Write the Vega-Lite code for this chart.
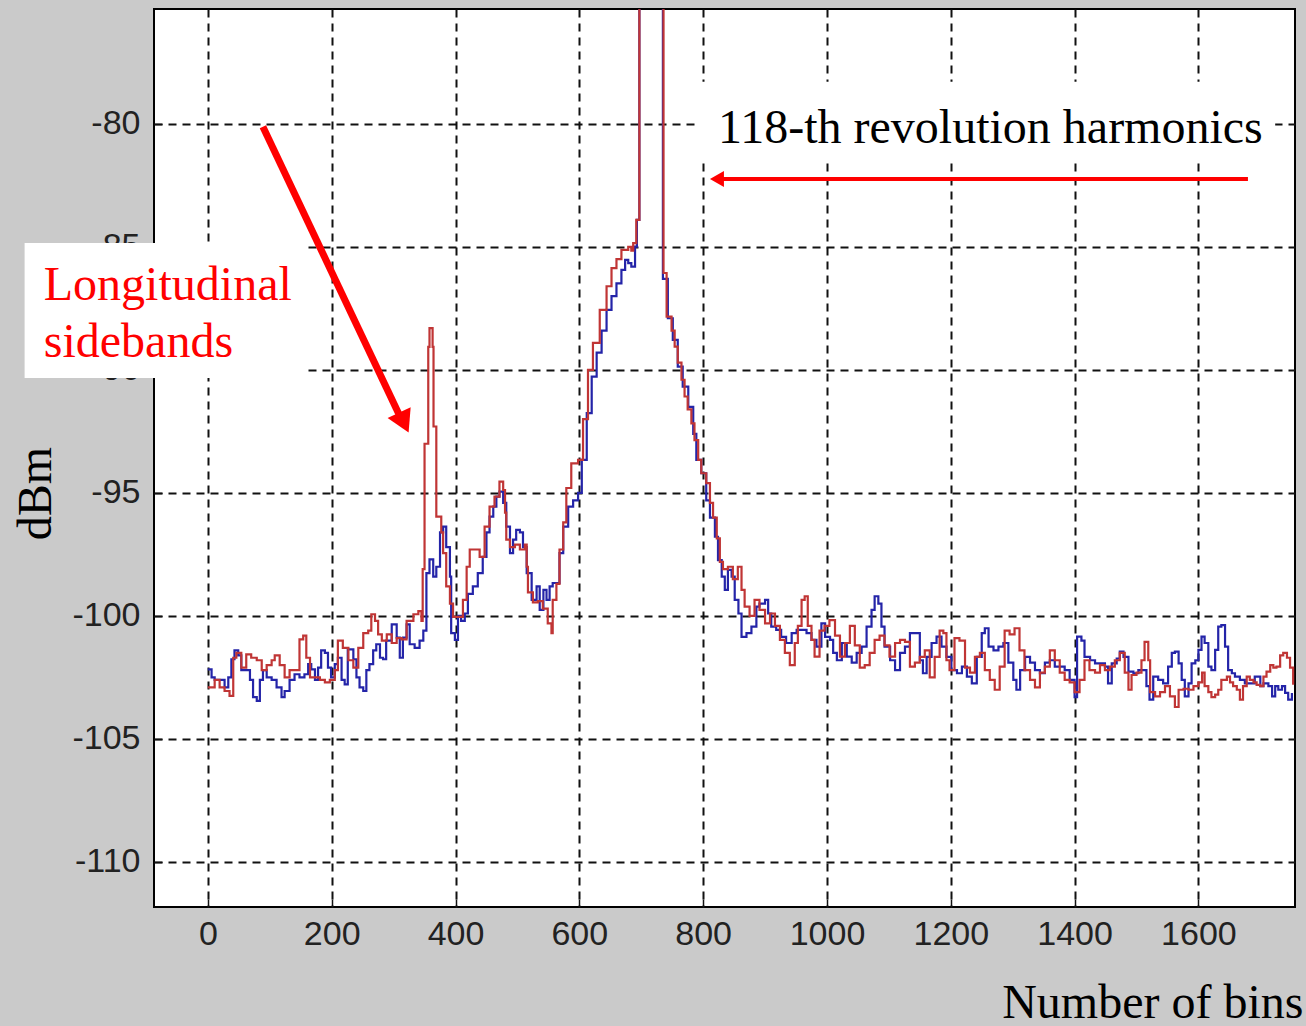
{
  "$schema": "https://vega.github.io/schema/vega-lite/v6.json",
  "autosize": "none",
  "width": 1141,
  "height": 898,
  "padding": {"left": 154, "top": 9, "right": 11, "bottom": 119},
  "background": "#cacaca",
  "config": {
    "view": {"fill": "white", "stroke": "black", "strokeWidth": 2},
    "axis": {
      "grid": true, "gridColor": "#111", "gridDash": [8, 6], "gridWidth": 2, "gridOpacity": 1,
      "domain": false, "tickColor": "#111", "tickWidth": 1.5, "tickSize": -8,
      "labelFont": "Liberation Sans", "labelFontSize": 34, "labelColor": "#222",
      "labelExpr": "'' + datum.value",
      "titleFont": "Liberation Serif", "titleFontSize": 48, "titleFontWeight": "normal", "titleColor": "black"
    }
  },
  "datasets": {
    "blue": [
      {"bin":0,"dBm":-102.17},{"bin":6,"dBm":-102.5},{"bin":11,"dBm":-102.6},{"bin":19,"dBm":-102.6},{"bin":27,"dBm":-102.9},{"bin":33,"dBm":-102.5},{"bin":38,"dBm":-101.76},{"bin":43,"dBm":-101.4},{"bin":49,"dBm":-101.6},{"bin":54,"dBm":-102.2},{"bin":62,"dBm":-102.2},{"bin":68,"dBm":-102.6},{"bin":73,"dBm":-103.3},{"bin":79,"dBm":-103.45},{"bin":84,"dBm":-102.6},{"bin":89,"dBm":-102.2},{"bin":95,"dBm":-102.5},{"bin":103,"dBm":-102.6},{"bin":111,"dBm":-102.9},{"bin":119,"dBm":-103.3},{"bin":124,"dBm":-103.05},{"bin":132,"dBm":-102.6},{"bin":140,"dBm":-102.37},{"bin":148,"dBm":-102.5},{"bin":156,"dBm":-102.37},{"bin":162,"dBm":-101.96},{"bin":167,"dBm":-102.17},{"bin":173,"dBm":-102.6},{"bin":178,"dBm":-102.1},{"bin":183,"dBm":-101.4},{"bin":189,"dBm":-101.5},{"bin":194,"dBm":-102.1},{"bin":199,"dBm":-102.5},{"bin":205,"dBm":-101.96},{"bin":210,"dBm":-101.7},{"bin":216,"dBm":-102.6},{"bin":221,"dBm":-102.78},{"bin":226,"dBm":-101.36},{"bin":235,"dBm":-101.76},{"bin":240,"dBm":-102.5},{"bin":245,"dBm":-102.9},{"bin":251,"dBm":-103.05},{"bin":256,"dBm":-102.2},{"bin":261,"dBm":-101.96},{"bin":267,"dBm":-101.4},{"bin":272,"dBm":-101.15},{"bin":278,"dBm":-101.7},{"bin":283,"dBm":-101.76},{"bin":288,"dBm":-101.0},{"bin":297,"dBm":-100.34},{"bin":305,"dBm":-100.88},{"bin":310,"dBm":-101.7},{"bin":315,"dBm":-100.88},{"bin":321,"dBm":-100.34},{"bin":326,"dBm":-101.15},{"bin":334,"dBm":-101.3},{"bin":342,"dBm":-101.0},{"bin":348,"dBm":-100.6},{"bin":353,"dBm":-98.26},{"bin":358,"dBm":-97.7},{"bin":364,"dBm":-98.4},{"bin":369,"dBm":-98.0},{"bin":375,"dBm":-96.6},{"bin":380,"dBm":-96.37},{"bin":385,"dBm":-97.2},{"bin":391,"dBm":-98.4},{"bin":393,"dBm":-100.7},{"bin":399,"dBm":-100.97},{"bin":404,"dBm":-100.0},{"bin":409,"dBm":-100.2},{"bin":415,"dBm":-99.9},{"bin":420,"dBm":-99.1},{"bin":428,"dBm":-98.8},{"bin":436,"dBm":-98.26},{"bin":444,"dBm":-97.6},{"bin":450,"dBm":-96.6},{"bin":455,"dBm":-95.96},{"bin":461,"dBm":-95.56},{"bin":466,"dBm":-95.15},{"bin":471,"dBm":-94.95},{"bin":477,"dBm":-95.4},{"bin":482,"dBm":-96.37},{"bin":488,"dBm":-97.45},{"bin":493,"dBm":-96.9},{"bin":498,"dBm":-96.5},{"bin":504,"dBm":-96.6},{"bin":509,"dBm":-97.2},{"bin":515,"dBm":-98.26},{"bin":523,"dBm":-99.35},{"bin":531,"dBm":-98.8},{"bin":536,"dBm":-99.75},{"bin":542,"dBm":-98.94},{"bin":547,"dBm":-99.35},{"bin":552,"dBm":-98.8},{"bin":557,"dBm":-98.66},{"bin":563,"dBm":-98.66},{"bin":568,"dBm":-97.45},{"bin":574,"dBm":-96.37},{"bin":582,"dBm":-95.56},{"bin":590,"dBm":-95.3},{"bin":598,"dBm":-95.0},{"bin":604,"dBm":-93.66},{"bin":612,"dBm":-91.76},{"bin":620,"dBm":-90.27},{"bin":628,"dBm":-89.3},{"bin":636,"dBm":-88.4},{"bin":644,"dBm":-87.56},{"bin":652,"dBm":-87.0},{"bin":660,"dBm":-86.48},{"bin":668,"dBm":-85.93},{"bin":674,"dBm":-85.53},{"bin":679,"dBm":-85.66},{"bin":684,"dBm":-85.8},{"bin":690,"dBm":-84.99},{"bin":693,"dBm":-83.9},{"bin":697,"dBm":-70},{"bin":735,"dBm":-86.3},{"bin":743,"dBm":-87.9},{"bin":751,"dBm":-88.78},{"bin":759,"dBm":-89.87},{"bin":767,"dBm":-90.68},{"bin":776,"dBm":-91.5},{"bin":784,"dBm":-92.6},{"bin":789,"dBm":-93.66},{"bin":797,"dBm":-94.2},{"bin":805,"dBm":-95.3},{"bin":811,"dBm":-96.0},{"bin":819,"dBm":-96.78},{"bin":824,"dBm":-97.73},{"bin":830,"dBm":-98.4},{"bin":835,"dBm":-98.94},{"bin":840,"dBm":-98.13},{"bin":846,"dBm":-98.4},{"bin":851,"dBm":-99.35},{"bin":857,"dBm":-99.9},{"bin":862,"dBm":-100.85},{"bin":870,"dBm":-100.7},{"bin":878,"dBm":-100.43},{"bin":886,"dBm":-99.62},{"bin":891,"dBm":-99.5},{"bin":900,"dBm":-99.35},{"bin":905,"dBm":-99.9},{"bin":910,"dBm":-100.43},{"bin":918,"dBm":-100.57},{"bin":926,"dBm":-100.85},{"bin":934,"dBm":-101.1},{"bin":943,"dBm":-100.7},{"bin":951,"dBm":-100.57},{"bin":959,"dBm":-100.57},{"bin":967,"dBm":-100.7},{"bin":975,"dBm":-100.97},{"bin":983,"dBm":-101.25},{"bin":991,"dBm":-100.3},{"bin":997,"dBm":-100.85},{"bin":1005,"dBm":-100.97},{"bin":1010,"dBm":-101.5},{"bin":1016,"dBm":-101.8},{"bin":1024,"dBm":-101.1},{"bin":1032,"dBm":-101.65},{"bin":1040,"dBm":-101.9},{"bin":1048,"dBm":-101.5},{"bin":1056,"dBm":-101.25},{"bin":1064,"dBm":-100.43},{"bin":1072,"dBm":-99.75},{"bin":1077,"dBm":-99.2},{"bin":1083,"dBm":-99.5},{"bin":1088,"dBm":-100.43},{"bin":1093,"dBm":-101.25},{"bin":1102,"dBm":-101.8},{"bin":1110,"dBm":-102.2},{"bin":1118,"dBm":-101.5},{"bin":1126,"dBm":-101.25},{"bin":1134,"dBm":-100.7},{"bin":1142,"dBm":-100.7},{"bin":1150,"dBm":-101.8},{"bin":1155,"dBm":-102.33},{"bin":1161,"dBm":-101.66},{"bin":1169,"dBm":-101.1},{"bin":1177,"dBm":-100.84},{"bin":1185,"dBm":-101.25},{"bin":1193,"dBm":-101.66},{"bin":1201,"dBm":-102.2},{"bin":1210,"dBm":-102.33},{"bin":1218,"dBm":-102.06},{"bin":1226,"dBm":-102.47},{"bin":1234,"dBm":-102.74},{"bin":1242,"dBm":-101.66},{"bin":1250,"dBm":-100.7},{"bin":1255,"dBm":-100.5},{"bin":1261,"dBm":-101.25},{"bin":1269,"dBm":-101.4},{"bin":1277,"dBm":-101.25},{"bin":1285,"dBm":-101.1},{"bin":1293,"dBm":-101.9},{"bin":1301,"dBm":-102.6},{"bin":1306,"dBm":-103.0},{"bin":1312,"dBm":-102.2},{"bin":1320,"dBm":-101.66},{"bin":1328,"dBm":-101.9},{"bin":1336,"dBm":-102.2},{"bin":1344,"dBm":-102.33},{"bin":1352,"dBm":-101.9},{"bin":1360,"dBm":-101.8},{"bin":1368,"dBm":-102.06},{"bin":1376,"dBm":-102.06},{"bin":1384,"dBm":-102.2},{"bin":1392,"dBm":-102.6},{"bin":1400,"dBm":-103.3},{"bin":1404,"dBm":-100.84},{"bin":1411,"dBm":-101.0},{"bin":1416,"dBm":-101.66},{"bin":1425,"dBm":-101.8},{"bin":1433,"dBm":-101.93},{"bin":1441,"dBm":-101.93},{"bin":1449,"dBm":-102.06},{"bin":1454,"dBm":-102.74},{"bin":1460,"dBm":-101.93},{"bin":1468,"dBm":-101.73},{"bin":1473,"dBm":-101.45},{"bin":1479,"dBm":-101.66},{"bin":1487,"dBm":-102.26},{"bin":1495,"dBm":-102.33},{"bin":1503,"dBm":-102.2},{"bin":1511,"dBm":-102.2},{"bin":1516,"dBm":-102.85},{"bin":1521,"dBm":-103.4},{"bin":1527,"dBm":-102.47},{"bin":1535,"dBm":-102.6},{"bin":1543,"dBm":-102.74},{"bin":1551,"dBm":-102.06},{"bin":1557,"dBm":-101.5},{"bin":1562,"dBm":-101.45},{"bin":1568,"dBm":-101.93},{"bin":1573,"dBm":-102.6},{"bin":1578,"dBm":-103.27},{"bin":1584,"dBm":-102.74},{"bin":1589,"dBm":-101.93},{"bin":1595,"dBm":-101.8},{"bin":1600,"dBm":-101.38},{"bin":1605,"dBm":-100.84},{"bin":1610,"dBm":-101.1},{"bin":1616,"dBm":-102.06},{"bin":1621,"dBm":-102.2},{"bin":1627,"dBm":-101.38},{"bin":1632,"dBm":-100.43},{"bin":1637,"dBm":-100.37},{"bin":1643,"dBm":-101.25},{"bin":1648,"dBm":-102.2},{"bin":1654,"dBm":-102.33},{"bin":1659,"dBm":-102.47},{"bin":1667,"dBm":-102.6},{"bin":1675,"dBm":-102.74},{"bin":1683,"dBm":-102.74},{"bin":1691,"dBm":-102.47},{"bin":1700,"dBm":-102.85},{"bin":1705,"dBm":-102.74},{"bin":1713,"dBm":-102.85},{"bin":1719,"dBm":-103.27},{"bin":1724,"dBm":-102.85},{"bin":1729,"dBm":-103.0},{"bin":1735,"dBm":-102.85},{"bin":1740,"dBm":-103.13},{"bin":1745,"dBm":-103.4},{"bin":1751,"dBm":-103.13}
    ],
    "red": [
      {"bin":0,"dBm":-102.9},{"bin":11,"dBm":-102.6},{"bin":19,"dBm":-102.9},{"bin":27,"dBm":-103.05},{"bin":35,"dBm":-103.25},{"bin":41,"dBm":-101.7},{"bin":46,"dBm":-101.5},{"bin":54,"dBm":-102.1},{"bin":62,"dBm":-101.56},{"bin":70,"dBm":-101.7},{"bin":79,"dBm":-101.8},{"bin":87,"dBm":-102.2},{"bin":95,"dBm":-102.0},{"bin":103,"dBm":-101.8},{"bin":108,"dBm":-101.6},{"bin":116,"dBm":-102.0},{"bin":124,"dBm":-102.5},{"bin":132,"dBm":-102.2},{"bin":140,"dBm":-102.2},{"bin":148,"dBm":-100.95},{"bin":154,"dBm":-100.8},{"bin":159,"dBm":-101.7},{"bin":165,"dBm":-102.5},{"bin":173,"dBm":-102.5},{"bin":181,"dBm":-102.6},{"bin":189,"dBm":-102.7},{"bin":197,"dBm":-102.6},{"bin":205,"dBm":-102.2},{"bin":210,"dBm":-101.0},{"bin":218,"dBm":-101.3},{"bin":227,"dBm":-101.8},{"bin":235,"dBm":-102.1},{"bin":243,"dBm":-101.3},{"bin":251,"dBm":-100.7},{"bin":259,"dBm":-100.6},{"bin":264,"dBm":-99.93},{"bin":270,"dBm":-100.2},{"bin":275,"dBm":-100.75},{"bin":281,"dBm":-101.0},{"bin":289,"dBm":-100.75},{"bin":297,"dBm":-101.1},{"bin":305,"dBm":-100.9},{"bin":313,"dBm":-100.95},{"bin":321,"dBm":-100.2},{"bin":332,"dBm":-99.93},{"bin":340,"dBm":-99.8},{"bin":345,"dBm":-100.2},{"bin":347,"dBm":-98.1},{"bin":350,"dBm":-93.0},{"bin":356,"dBm":-89.06},{"bin":358,"dBm":-88.3},{"bin":363,"dBm":-89.06},{"bin":364.5,"dBm":-92.3},{"bin":369,"dBm":-95.96},{"bin":377,"dBm":-96.6},{"bin":380,"dBm":-97.45},{"bin":385,"dBm":-98.8},{"bin":391,"dBm":-99.5},{"bin":396,"dBm":-100.04},{"bin":404,"dBm":-100.04},{"bin":412,"dBm":-99.35},{"bin":418,"dBm":-98.0},{"bin":423,"dBm":-97.3},{"bin":431,"dBm":-97.3},{"bin":439,"dBm":-97.6},{"bin":447,"dBm":-96.37},{"bin":455,"dBm":-95.56},{"bin":463,"dBm":-95.15},{"bin":471,"dBm":-94.54},{"bin":477,"dBm":-94.88},{"bin":480,"dBm":-95.8},{"bin":482,"dBm":-96.9},{"bin":488,"dBm":-97.2},{"bin":496,"dBm":-97.1},{"bin":504,"dBm":-97.3},{"bin":512,"dBm":-97.1},{"bin":515,"dBm":-98.0},{"bin":517,"dBm":-99.04},{"bin":525,"dBm":-99.45},{"bin":533,"dBm":-99.4},{"bin":541,"dBm":-99.7},{"bin":549,"dBm":-100.3},{"bin":555,"dBm":-100.7},{"bin":557,"dBm":-99.35},{"bin":563,"dBm":-98.7},{"bin":568,"dBm":-97.3},{"bin":574,"dBm":-96.2},{"bin":579,"dBm":-94.8},{"bin":587,"dBm":-93.8},{"bin":598,"dBm":-93.66},{"bin":606,"dBm":-92.0},{"bin":614,"dBm":-90.0},{"bin":622,"dBm":-88.9},{"bin":633,"dBm":-87.56},{"bin":644,"dBm":-86.6},{"bin":652,"dBm":-85.86},{"bin":660,"dBm":-85.5},{"bin":668,"dBm":-85.12},{"bin":679,"dBm":-85.0},{"bin":684,"dBm":-85.15},{"bin":687,"dBm":-84.85},{"bin":692,"dBm":-83.9},{"bin":697,"dBm":-70},{"bin":736,"dBm":-86.06},{"bin":741,"dBm":-87.83},{"bin":749,"dBm":-88.4},{"bin":754,"dBm":-89.05},{"bin":759,"dBm":-89.7},{"bin":765,"dBm":-90.4},{"bin":770,"dBm":-91.08},{"bin":775,"dBm":-91.6},{"bin":781,"dBm":-92.17},{"bin":786,"dBm":-92.85},{"bin":792,"dBm":-93.66},{"bin":797,"dBm":-94.2},{"bin":805,"dBm":-94.6},{"bin":811,"dBm":-95.4},{"bin":816,"dBm":-96.0},{"bin":822,"dBm":-96.85},{"bin":827,"dBm":-97.8},{"bin":832,"dBm":-98.1},{"bin":840,"dBm":-98.0},{"bin":848,"dBm":-98.5},{"bin":856,"dBm":-98.0},{"bin":862,"dBm":-98.94},{"bin":867,"dBm":-99.62},{"bin":875,"dBm":-100.0},{"bin":883,"dBm":-99.35},{"bin":891,"dBm":-99.75},{"bin":900,"dBm":-100.3},{"bin":908,"dBm":-99.9},{"bin":916,"dBm":-100.4},{"bin":924,"dBm":-100.97},{"bin":932,"dBm":-101.5},{"bin":940,"dBm":-102.0},{"bin":948,"dBm":-101.1},{"bin":953,"dBm":-100.4},{"bin":959,"dBm":-99.35},{"bin":964,"dBm":-99.2},{"bin":969,"dBm":-100.4},{"bin":975,"dBm":-100.97},{"bin":980,"dBm":-101.65},{"bin":988,"dBm":-100.6},{"bin":996,"dBm":-100.4},{"bin":1004,"dBm":-100.17},{"bin":1013,"dBm":-100.8},{"bin":1021,"dBm":-101.65},{"bin":1029,"dBm":-101.1},{"bin":1037,"dBm":-100.4},{"bin":1045,"dBm":-101.2},{"bin":1053,"dBm":-102.1},{"bin":1061,"dBm":-102.0},{"bin":1069,"dBm":-101.5},{"bin":1077,"dBm":-100.97},{"bin":1085,"dBm":-100.8},{"bin":1093,"dBm":-101.2},{"bin":1101,"dBm":-101.65},{"bin":1110,"dBm":-101.1},{"bin":1118,"dBm":-100.97},{"bin":1126,"dBm":-101.05},{"bin":1134,"dBm":-102.06},{"bin":1142,"dBm":-101.9},{"bin":1150,"dBm":-101.66},{"bin":1158,"dBm":-101.4},{"bin":1166,"dBm":-102.5},{"bin":1174,"dBm":-101.66},{"bin":1182,"dBm":-100.6},{"bin":1188,"dBm":-100.7},{"bin":1193,"dBm":-101.8},{"bin":1198,"dBm":-102.2},{"bin":1206,"dBm":-100.9},{"bin":1214,"dBm":-101.0},{"bin":1223,"dBm":-102.1},{"bin":1231,"dBm":-102.3},{"bin":1239,"dBm":-101.66},{"bin":1247,"dBm":-101.5},{"bin":1255,"dBm":-102.2},{"bin":1263,"dBm":-102.6},{"bin":1271,"dBm":-103.0},{"bin":1279,"dBm":-102.06},{"bin":1287,"dBm":-100.6},{"bin":1295,"dBm":-100.75},{"bin":1303,"dBm":-100.5},{"bin":1311,"dBm":-101.4},{"bin":1319,"dBm":-102.2},{"bin":1328,"dBm":-102.6},{"bin":1336,"dBm":-102.9},{"bin":1344,"dBm":-102.3},{"bin":1352,"dBm":-102.06},{"bin":1360,"dBm":-101.4},{"bin":1368,"dBm":-101.8},{"bin":1376,"dBm":-102.3},{"bin":1384,"dBm":-102.6},{"bin":1392,"dBm":-102.7},{"bin":1400,"dBm":-103.1},{"bin":1408,"dBm":-102.6},{"bin":1416,"dBm":-101.8},{"bin":1424,"dBm":-102.2},{"bin":1433,"dBm":-102.3},{"bin":1441,"dBm":-102.0},{"bin":1449,"dBm":-102.2},{"bin":1457,"dBm":-102.06},{"bin":1465,"dBm":-101.8},{"bin":1473,"dBm":-101.5},{"bin":1481,"dBm":-102.3},{"bin":1487,"dBm":-103.0},{"bin":1492,"dBm":-102.4},{"bin":1500,"dBm":-102.3},{"bin":1508,"dBm":-101.8},{"bin":1513,"dBm":-101.05},{"bin":1519,"dBm":-101.8},{"bin":1522,"dBm":-103.1},{"bin":1530,"dBm":-103.27},{"bin":1538,"dBm":-103.1},{"bin":1546,"dBm":-102.85},{"bin":1554,"dBm":-103.27},{"bin":1562,"dBm":-103.7},{"bin":1568,"dBm":-103.0},{"bin":1576,"dBm":-102.96},{"bin":1584,"dBm":-103.0},{"bin":1592,"dBm":-102.85},{"bin":1600,"dBm":-102.7},{"bin":1606,"dBm":-102.3},{"bin":1610,"dBm":-102.85},{"bin":1616,"dBm":-103.1},{"bin":1621,"dBm":-103.3},{"bin":1627,"dBm":-103.2},{"bin":1632,"dBm":-103.0},{"bin":1637,"dBm":-102.6},{"bin":1646,"dBm":-102.47},{"bin":1651,"dBm":-102.7},{"bin":1656,"dBm":-102.85},{"bin":1662,"dBm":-103.0},{"bin":1667,"dBm":-103.4},{"bin":1672,"dBm":-102.85},{"bin":1678,"dBm":-102.47},{"bin":1683,"dBm":-102.6},{"bin":1689,"dBm":-102.7},{"bin":1694,"dBm":-102.8},{"bin":1700,"dBm":-102.85},{"bin":1705,"dBm":-102.47},{"bin":1710,"dBm":-102.26},{"bin":1716,"dBm":-102.0},{"bin":1721,"dBm":-102.1},{"bin":1726,"dBm":-102.06},{"bin":1732,"dBm":-101.6},{"bin":1737,"dBm":-101.5},{"bin":1743,"dBm":-101.7},{"bin":1748,"dBm":-102.1},{"bin":1753,"dBm":-102.8}
    ]
  },
  "layer": [
    {
      "data": {"name": "blue"},
      "mark": {"type": "line", "interpolate": "step-after", "color": "#2424a8", "strokeWidth": 2.2, "clip": true},
      "encoding": {
        "x": {"field": "bin", "type": "quantitative",
          "scale": {"domain": [-87, 1756], "nice": false, "zero": false},
          "axis": {"values": [0,200,400,600,800,1000,1200,1400,1600], "labelPadding": 18, "title": "Number of bins",
            "titleX": 1149, "titleY": 110, "titleAlign": "right", "titleBaseline": "alphabetic", "titleAnchor": null}},
        "y": {"field": "dBm", "type": "quantitative",
          "scale": {"domain": [-111.83, -75.33], "nice": false, "zero": false},
          "axis": {"values": [-110,-105,-100,-95,-90,-85,-80], "labelPadding": 22, "title": "dBm",
            "titleX": -118, "titleY": 484, "titleAngle": -90, "titleAlign": "center", "titleBaseline": "middle", "titleAnchor": null}}
      }
    },
    {
      "data": {"name": "red"},
      "mark": {"type": "line", "interpolate": "step-after", "color": "#c03535", "strokeWidth": 2.2, "clip": true},
      "encoding": {
        "x": {"field": "bin", "type": "quantitative"},
        "y": {"field": "dBm", "type": "quantitative"}
      }
    },
    {
      "data": {"values": [
        {"x1": -296, "x2": 161.6, "y1": -84.84, "y2": -90.33},
        {"x1": 790, "x2": 1724, "y1": -78.29, "y2": -81.54}
      ]},
      "mark": {"type": "rect", "fill": "white", "stroke": null},
      "encoding": {
        "x": {"field": "x1", "type": "quantitative"},
        "x2": {"field": "x2"},
        "y": {"field": "y1", "type": "quantitative"},
        "y2": {"field": "y2"}
      }
    },
    {
      "data": {"values": [
        {"x": -265, "y": -87.15, "label": "Longitudinal"},
        {"x": -265, "y": -89.47, "label": "sidebands"}
      ]},
      "mark": {"type": "text", "font": "Liberation Serif", "fontSize": 48, "color": "#ff0000", "align": "left", "baseline": "alphabetic"},
      "encoding": {
        "x": {"field": "x", "type": "quantitative"},
        "y": {"field": "y", "type": "quantitative"},
        "text": {"field": "label"}
      }
    },
    {
      "data": {"values": [
        {"x": 824, "y": -80.77, "label": "118-th revolution harmonics"}
      ]},
      "mark": {"type": "text", "font": "Liberation Serif", "fontSize": 48, "color": "black", "align": "left", "baseline": "alphabetic"},
      "encoding": {
        "x": {"field": "x", "type": "quantitative"},
        "y": {"field": "y", "type": "quantitative"},
        "text": {"field": "label"}
      }
    },
    {
      "data": {"values": [
        {"x1": 88.9, "y1": -80.12, "x2": 310, "y2": -91.87, "w": "thick"},
        {"x1": 822, "y1": -82.24, "x2": 1680, "y2": -82.24, "w": "thin"}
      ]},
      "mark": {"type": "rule", "color": "#ff0000"},
      "encoding": {
        "x": {"field": "x1", "type": "quantitative"},
        "x2": {"field": "x2"},
        "y": {"field": "y1", "type": "quantitative"},
        "y2": {"field": "y2"},
        "strokeWidth": {"field": "w", "type": "nominal", "scale": {"domain": ["thick", "thin"], "range": [7, 4]}, "legend": null}
      }
    },
    {
      "data": {"values": [
        {"x": 316.6, "y": -92.14, "dir": "diag"}
      ]},
      "mark": {"type": "point", "shape": "triangle-down", "filled": true, "color": "#ff0000", "size": 650, "angle": 334.6, "opacity": 1},
      "encoding": {
        "x": {"field": "x", "type": "quantitative"},
        "y": {"field": "y", "type": "quantitative"}
      }
    },
    {
      "data": {"values": [
        {"x": 822.3, "y": -82.24, "dir": "left"}
      ]},
      "mark": {"type": "point", "shape": "triangle-left", "filled": true, "color": "#ff0000", "size": 260, "opacity": 1},
      "encoding": {
        "x": {"field": "x", "type": "quantitative"},
        "y": {"field": "y", "type": "quantitative"}
      }
    }
  ]
}
